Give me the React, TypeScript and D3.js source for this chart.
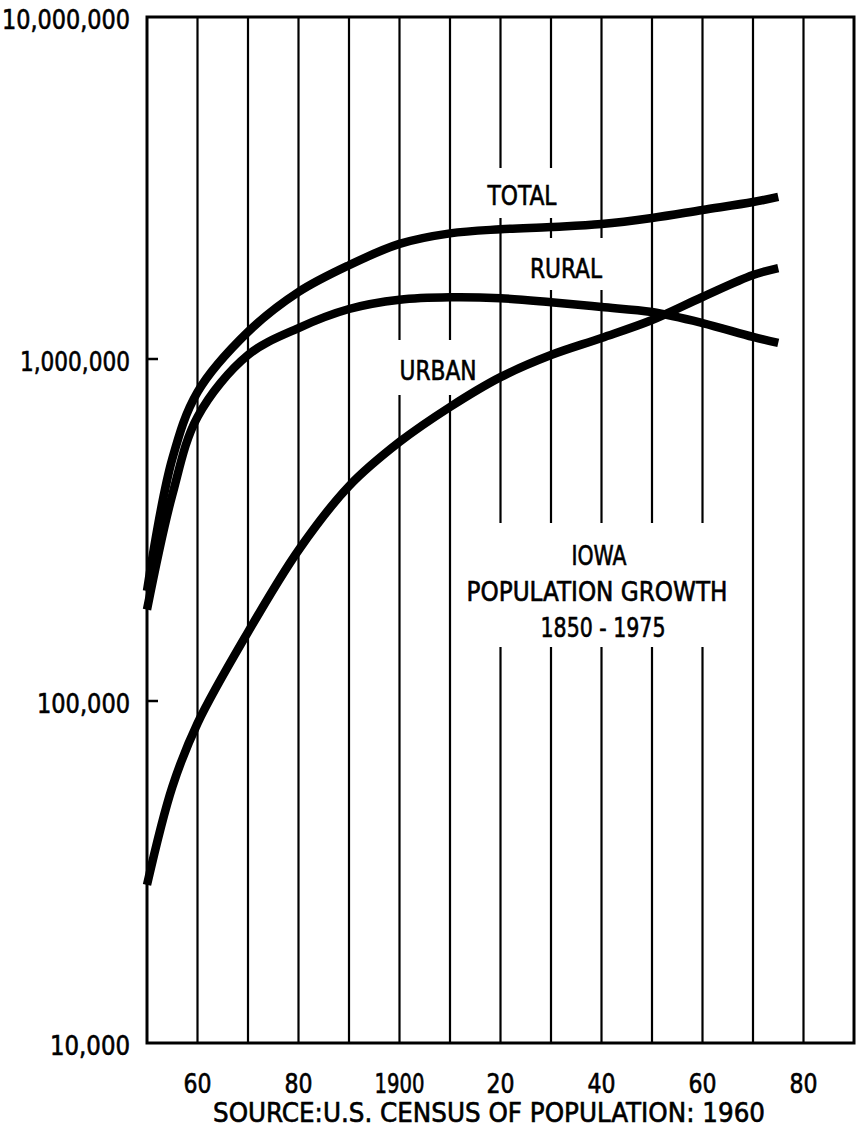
import React from "react";
import * as d3 from "d3";

// ---- data ----
const YEARS = [1850, 1855, 1860, 1870, 1880, 1890, 1900, 1910, 1920, 1930, 1940, 1950, 1960, 1970, 1975];
const TOTAL = [210000, 510000, 800000, 1200000, 1570000, 1880000, 2170000, 2330000, 2395000, 2432000, 2481000, 2584000, 2727000, 2877000, 2977000];
const RURAL = [185000, 400000, 677000, 1027000, 1232000, 1400000, 1490000, 1515000, 1505000, 1465000, 1419000, 1372000, 1274000, 1160000, 1114000];
const URBAN = [29000, 56000, 86000, 159000, 276000, 425000, 572000, 724000, 885000, 1027000, 1152000, 1300000, 1518000, 1760000, 1845000];

const GRID_YEARS = [1860, 1870, 1880, 1890, 1900, 1910, 1920, 1930, 1940, 1950, 1960, 1970, 1980];
const X_TICKS = [1860, 1880, 1900, 1920, 1940, 1960, 1980];
const X_TICK_LABELS = ["60", "80", "1900", "20", "40", "60", "80"];
const Y_TICKS = [10000, 100000, 1000000, 10000000];
const Y_TICK_LABELS = ["10,000", "100,000", "1,000,000", "10,000,000"];

const SERIES_NAMES = ["TOTAL", "RURAL", "URBAN"];
const TITLE_LINES = ["IOWA", "POPULATION GROWTH", "1850 - 1975"];
const SOURCE = "SOURCE:U.S. CENSUS OF POPULATION: 1960";

const FONT = "'DejaVu Sans Condensed', 'DejaVu Sans', sans-serif";

export default function App() {
  const W = 866, H = 1128;
  const left = 147, right = 854, top = 17, bottom = 1043;
  const x = d3.scaleLinear().domain([1850, 1990]).range([left, right]);
  const y = d3.scaleLog().domain([1e4, 1e7]).range([bottom, top]);

  const line = d3
    .line<number>()
    .x((_, i) => x(YEARS[i]))
    .y((d) => y(d))
    .curve(d3.curveCatmullRom.alpha(0.5));

  const seriesData = [TOTAL, RURAL, URBAN];

  const labelPos = [
    { cx: 522, cy: 195, w: 69, box: [482, 168, 82, 50] },
    { cx: 566, cy: 268, w: 72, box: [526, 238, 82, 52] },
    { cx: 438, cy: 370, w: 77, box: [394, 340, 88, 55] },
  ];
  const titleBox = [458, 523, 282, 124];
  const titlePos = [
    { cx: 599, cy: 555, w: 55 },
    { cx: 597, cy: 591, w: 261 },
    { cx: 603, cy: 627, w: 125 },
  ];
  const yLabelW = [80, 93, 110, 128];
  const xLabelW = [28, 28, 50, 28, 28, 28, 28];

  const textStyle: React.CSSProperties = {
    fontFamily: FONT,
    fontStretch: "condensed",
  };
  const ink = { fill: "#000", stroke: "#000", strokeWidth: 0.6 };

  return (
    <svg
      width={W}
      height={H}
      viewBox={`0 0 ${W} ${H}`}
      style={{ position: "absolute", left: 0, top: 0, background: "#fff" }}
    >
      <rect x={0} y={0} width={W} height={H} fill="#fff" />
      {GRID_YEARS.map((yr) => (
        <line key={yr} x1={x(yr)} x2={x(yr)} y1={top} y2={bottom} stroke="#000" strokeWidth={2.2} />
      ))}
      <rect x={left} y={top} width={right - left} height={bottom - top} fill="none" stroke="#000" strokeWidth={3} />
      {Y_TICKS.slice(1, 3).map((v) => (
        <line key={v} x1={left} x2={left + 11} y1={y(v)} y2={y(v)} stroke="#000" strokeWidth={2.5} />
      ))}
      {labelPos.map((p, i) => (
        <rect key={i} x={p.box[0]} y={p.box[1]} width={p.box[2]} height={p.box[3]} fill="#fff" />
      ))}
      <rect x={titleBox[0]} y={titleBox[1]} width={titleBox[2]} height={titleBox[3]} fill="#fff" />
      {seriesData.map((s, i) => (
        <path key={i} d={line(s) || ""} fill="none" stroke="#000" strokeWidth={8.5} strokeLinecap="butt" />
      ))}
      {SERIES_NAMES.map((n, i) => (
        <text
          key={n}
          x={labelPos[i].cx}
          y={labelPos[i].cy}
          textAnchor="middle"
          dominantBaseline="central"
          fontSize={27}
          textLength={labelPos[i].w}
          lengthAdjust="spacingAndGlyphs"
          style={textStyle}
          {...ink}
        >
          {n}
        </text>
      ))}
      {TITLE_LINES.map((t, i) => (
        <text
          key={i}
          x={titlePos[i].cx}
          y={titlePos[i].cy}
          textAnchor="middle"
          dominantBaseline="central"
          fontSize={27}
          textLength={titlePos[i].w}
          lengthAdjust="spacingAndGlyphs"
          style={textStyle}
          {...ink}
        >
          {t}
        </text>
      ))}
      {Y_TICKS.map((v, i) => (
        <text
          key={v}
          x={130 - yLabelW[i] / 2}
          y={y(v) + 2}
          textAnchor="middle"
          dominantBaseline="central"
          fontSize={27}
          textLength={yLabelW[i]}
          lengthAdjust="spacingAndGlyphs"
          style={textStyle}
          {...ink}
        >
          {Y_TICK_LABELS[i]}
        </text>
      ))}
      {X_TICKS.map((yr, i) => (
        <text
          key={yr}
          x={x(yr)}
          y={1083}
          textAnchor="middle"
          dominantBaseline="central"
          fontSize={27}
          textLength={xLabelW[i]}
          lengthAdjust="spacingAndGlyphs"
          style={textStyle}
          {...ink}
        >
          {X_TICK_LABELS[i]}
        </text>
      ))}
      <text
        x={489}
        y={1112}
        textAnchor="middle"
        dominantBaseline="central"
        fontSize={27}
        textLength={552}
        lengthAdjust="spacingAndGlyphs"
        style={textStyle}
        {...ink}
      >
        {SOURCE}
      </text>
    </svg>
  );
}
